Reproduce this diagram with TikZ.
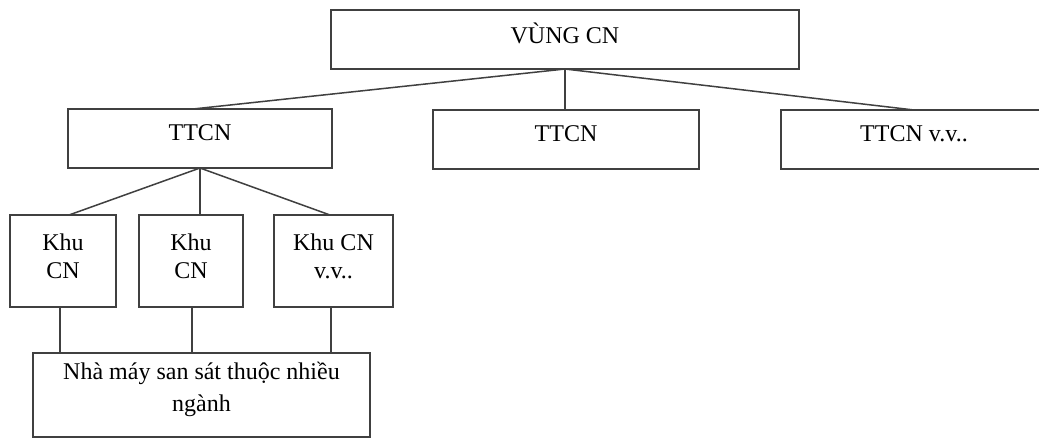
\documentclass[tikz,border=0pt]{standalone}
\usepackage{fontspec}
\setmainfont{Liberation Serif}
\usetikzlibrary{calc}
\begin{document}
\begin{tikzpicture}[x=0.5pt,y=-0.5pt,
  box/.style={draw=black!75,line width=0.75pt,rectangle,inner sep=0pt,outer sep=0pt,fill=white},
  lbl/.style={label={[yshift=3pt,align=center,font=\fontsize{12}{14}\selectfont]center:#1}},
  lblk/.style={label={[yshift=2.5pt,align=center,font=\fontsize{12}{14}\selectfont]center:#1}},
  lbln/.style={label={[yshift=3pt,align=center,font=\fontsize{12}{16}\selectfont]center:#1}},
  conn/.style={draw=black!75,line width=0.75pt}]
\useasboundingbox (0,0) rectangle (1039,439);
\clip (0,0) rectangle (1039,439);
\fill[white] (0,0) rectangle (1039,439);
% boxes
\node[box,minimum width=234pt,minimum height=29.5pt,lbl={VÙNG CN}] (v) at (565,39.5) {};
\node[box,minimum width=132pt,minimum height=29.5pt,lbl={TTCN}] (t1) at (200,138.5) {};
\node[box,minimum width=133pt,minimum height=29.5pt,lbl={TTCN}] (t2) at (566,139.5) {};
\node[box,minimum width=133pt,minimum height=29.5pt,lbl={TTCN v.v..}] (t3) at (914,139.5) {};
\node[box,minimum width=53pt,minimum height=46pt,lblk={Khu\\CN}] (k1) at (63,261) {};
\node[box,minimum width=52pt,minimum height=46pt,lblk={Khu\\CN}] (k2) at (191,261) {};
\node[box,minimum width=59.5pt,minimum height=46pt,lblk={Khu CN\\v.v..}] (k3) at (333.5,261) {};
\node[box,minimum width=168.5pt,minimum height=42pt,lbln={Nhà máy san sát thuộc nhiều\\ngành}] (n) at (201.5,395) {};
% connectors level 1
\draw[conn] (v.south) -- ($(t1.north)+(-7,0)$);
\draw[conn] (v.south) -- (v.south |- t2.north);
\draw[conn] (v.south) -- (t3.north);
% connectors level 2
\draw[conn] (t1.south) -- ($(k1.north)+(6,0)$);
\draw[conn] (t1.south) -- (t1.south |- k2.north);
\draw[conn] (t1.south) -- ($(k3.north)+(-3.5,0)$);
% connectors level 3
\draw[conn] ($(k1.south)+(-3,0)$) coordinate (a1) -- (a1 |- n.north);
\draw[conn] ($(k2.south)+(1,0)$) coordinate (a2) -- (a2 |- n.north);
\draw[conn] ($(k3.south)+(-2.5,0)$) coordinate (a3) -- (a3 |- n.north);
\end{tikzpicture}
\end{document}
